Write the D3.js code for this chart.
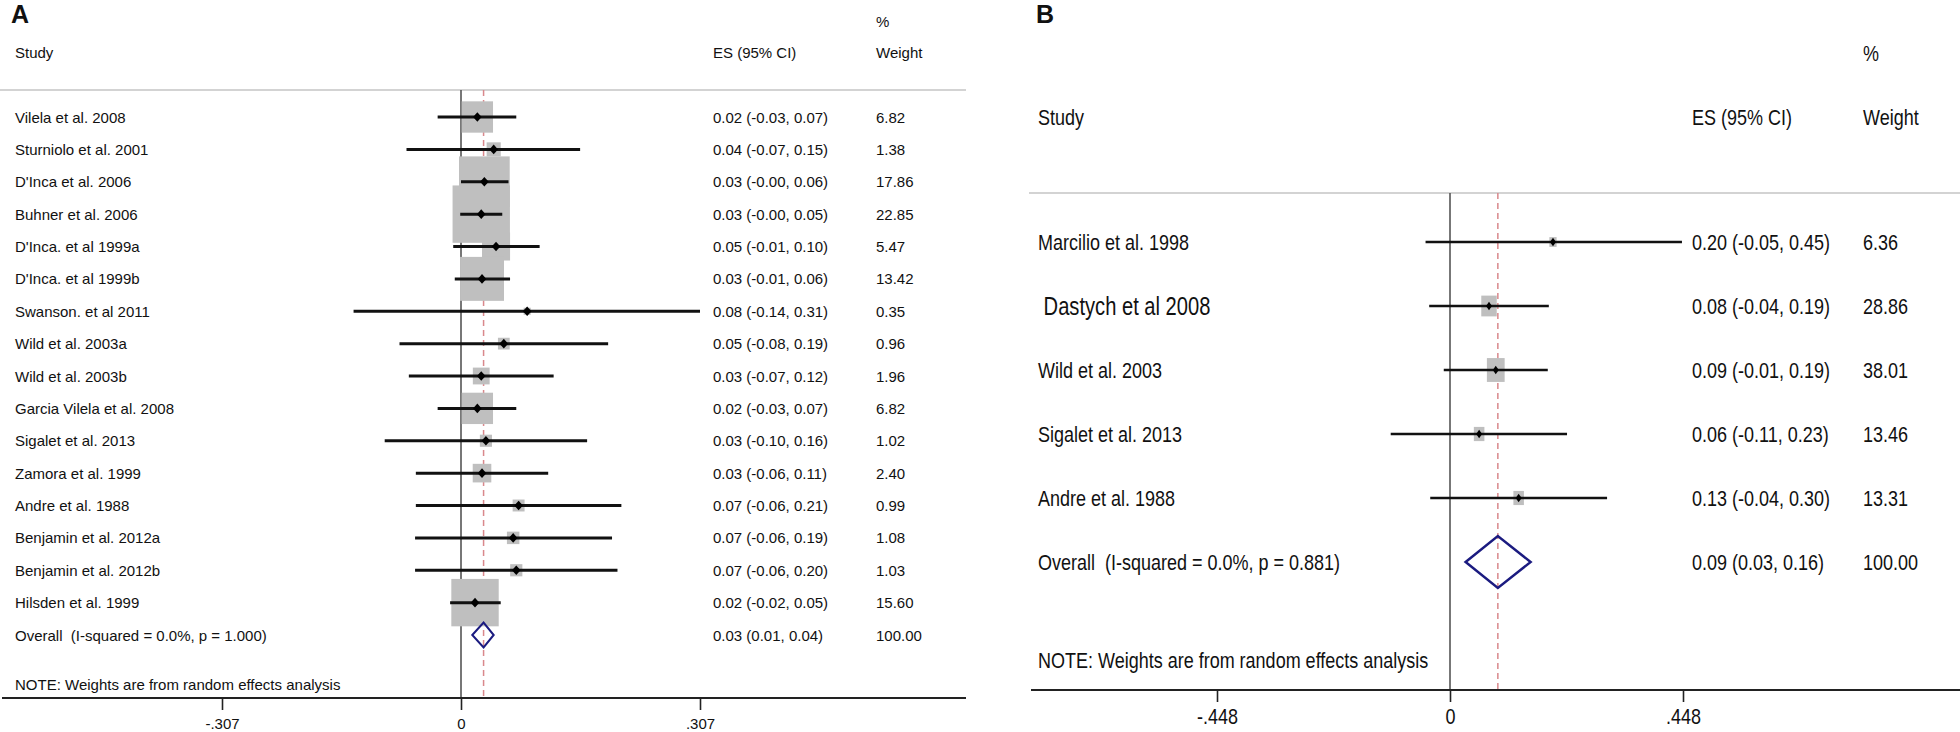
<!DOCTYPE html>
<html>
<head>
<meta charset="utf-8">
<script src="https://cdn.jsdelivr.net/npm/d3@7"></script>
<style>
	body { margin: 0; background: #fff; }
	svg { display: block; font-family: "Liberation Sans", Arial, Helvetica, sans-serif; }
	text { white-space: pre; fill: #111; }
</style>
</head>
<body>
<div id="chart"></div>
<script>
"use strict";

const width = 1960, height = 732;

//---- Data, panel A
const studiesA = ["Vilela et al. 2008", "Sturniolo et al. 2001", "D'Inca et al. 2006", "Buhner et al. 2006",
	"D'Inca. et al 1999a", "D'Inca. et al 1999b", "Swanson. et al 2011", "Wild et al. 2003a", "Wild et al. 2003b",
	"Garcia Vilela et al. 2008", "Sigalet et al. 2013", "Zamora et al. 1999", "Andre et al. 1988",
	"Benjamin et al. 2012a", "Benjamin et al. 2012b", "Hilsden et al. 1999"];
const esA = [0.021, 0.042, 0.030, 0.026, 0.045, 0.027, 0.085, 0.055, 0.026, 0.021, 0.032, 0.027, 0.074, 0.067, 0.071, 0.018];
const loA = [-0.030, -0.070, 0.000, -0.001, -0.010, -0.008, -0.138, -0.079, -0.067, -0.030, -0.098, -0.058, -0.058, -0.059, -0.059, -0.014];
const hiA = [0.071, 0.153, 0.061, 0.053, 0.101, 0.063, 0.307, 0.189, 0.119, 0.071, 0.162, 0.112, 0.206, 0.194, 0.201, 0.051];
const weightsA = [6.82, 1.38, 17.86, 22.85, 5.47, 13.42, 0.35, 0.96, 1.96, 6.82, 1.02, 2.40, 0.99, 1.08, 1.03, 15.60];
const esTextA = ["0.02 (-0.03, 0.07)", "0.04 (-0.07, 0.15)", "0.03 (-0.00, 0.06)", "0.03 (-0.00, 0.05)",
	"0.05 (-0.01, 0.10)", "0.03 (-0.01, 0.06)", "0.08 (-0.14, 0.31)", "0.05 (-0.08, 0.19)", "0.03 (-0.07, 0.12)",
	"0.02 (-0.03, 0.07)", "0.03 (-0.10, 0.16)", "0.03 (-0.06, 0.11)", "0.07 (-0.06, 0.21)", "0.07 (-0.06, 0.19)",
	"0.07 (-0.06, 0.20)", "0.02 (-0.02, 0.05)"];
const weightTextA = ["6.82", "1.38", "17.86", "22.85", "5.47", "13.42", "0.35", "0.96", "1.96", "6.82", "1.02",
	"2.40", "0.99", "1.08", "1.03", "15.60"];
const overallA = { label: "Overall  (I-squared = 0.0%, p = 1.000)", es: 0.029, lo: 0.0145, hi: 0.042, esText: "0.03 (0.01, 0.04)", wText: "100.00" };
const ticksA = [-0.307, 0, 0.307];
const tickLabelsA = ["-.307", "0", ".307"];

//---- Data, panel B
const studiesB = ["Marcilio et al. 1998", " Dastych et al 2008", "Wild et al. 2003", "Sigalet et al. 2013", "Andre et al. 1988"];
const esB = [0.198, 0.075, 0.088, 0.056, 0.132];
const loB = [-0.047, -0.040, -0.012, -0.114, -0.038];
const hiB = [0.446, 0.190, 0.188, 0.225, 0.302];
const weightsB = [6.36, 28.86, 38.01, 13.46, 13.31];
const esTextB = ["0.20 (-0.05, 0.45)", "0.08 (-0.04, 0.19)", "0.09 (-0.01, 0.19)", "0.06 (-0.11, 0.23)", "0.13 (-0.04, 0.30)"];
const weightTextB = ["6.36", "28.86", "38.01", "13.46", "13.31"];
const overallB = { label: "Overall  (I-squared = 0.0%, p = 0.881)", es: 0.092, lo: 0.030, hi: 0.155, esText: "0.09 (0.03, 0.16)", wText: "100.00" };
const ticksB = [-0.448, 0, 0.448];
const tickLabelsB = ["-.448", "0", ".448"];

const noteText = "NOTE: Weights are from random effects analysis";


//---- Layout
const panels = [
	{
		letter: "A", studies: studiesA, es: esA, lo: loA, hi: hiA, w: weightsA, esText: esTextA, wText: weightTextA,
		overall: overallA, ticks: ticksA, tickLabels: tickLabelsA,
		domain: [-0.307, 0.307], range: [222, 700],
		letterX: 11, left: 15, esX: 713, wX: 876, pctY: 21, headY: 52, lineY: 90, lineX: [0, 966],
		axisY: 698, rows: [117, 635], noteY: 684, tickDy: 25,
		font: 15, sy: 1, ciWidth: 3, boxKx: 12, boxKy: 12, markW: 4.3, markH: 4.8, diaH: 12.5, diaWidth: 2,
		enlarged: []
	},
	{
		letter: "B", studies: studiesB, es: esB, lo: loB, hi: hiB, w: weightsB, esText: esTextB, wText: weightTextB,
		overall: overallB, ticks: ticksB, tickLabels: tickLabelsB,
		domain: [-0.448, 0.448], range: [1217, 1683],
		letterX: 1036, left: 1038, esX: 1692, wX: 1863, pctY: 53, headY: 117, lineY: 193, lineX: [1029, 1960],
		axisY: 690, rows: [242, 562], noteY: 660, tickDy: 26.5,
		font: 18, sy: 1.24, ciWidth: 2.5, boxKx: 2.88, boxKy: 3.87, markW: 3, markH: 4.3, diaH: 26, diaWidth: 2.5,
		enlarged: [1]
	}
];

const svg = d3.select('#chart').append('svg')
	.attr('width', width)
	.attr('height', height)
	.attr('viewBox', [0, 0, width, height]);

function addText(g, x, y, str, size, sy, anchor) {
	return g.append('text')
		.attr('transform', `translate(${x},${y}) scale(1,${sy})`)
		.attr('dominant-baseline', 'central')
		.attr('text-anchor', anchor || 'start')
		.style('font-size', size + 'px')
		.text(str);
}

function drawPanel(p) {
	const g = svg.append('g');
	const x = d3.scaleLinear().domain(p.domain).range(p.range);
	const n = p.studies.length;
	const y = d3.scalePoint().domain(d3.range(n + 1)).range(p.rows);

	const rows = p.studies.map((s, i) => ({
		i: i, label: s, es: p.es[i], lo: p.lo[i], hi: p.hi[i], w: p.w[i], esText: p.esText[i], wText: p.wText[i]
	}));

	// header rule
	g.append('line')
		.attr('x1', p.lineX[0]).attr('x2', p.lineX[1])
		.attr('y1', p.lineY).attr('y2', p.lineY)
		.attr('stroke', '#d3d3d3').attr('stroke-width', 2);

	// no-effect line
	g.append('line')
		.attr('x1', x(0)).attr('x2', x(0))
		.attr('y1', p.lineY).attr('y2', p.axisY)
		.attr('stroke', '#555').attr('stroke-width', 1.6);

	// overall effect line
	g.append('line')
		.attr('x1', x(p.overall.es)).attr('x2', x(p.overall.es))
		.attr('y1', p.lineY).attr('y2', p.axisY)
		.attr('stroke', '#d9888c').attr('stroke-width', 1.5)
		.attr('stroke-dasharray', '6,4');

	// weight boxes
	g.selectAll('.box')
		.data(rows)
		.join('rect')
		.classed('box', true)
		.attr('x', d => x(d.es) - p.boxKx * Math.sqrt(d.w) / 2)
		.attr('y', d => y(d.i) - p.boxKy * Math.sqrt(d.w) / 2)
		.attr('width', d => p.boxKx * Math.sqrt(d.w))
		.attr('height', d => p.boxKy * Math.sqrt(d.w))
		.attr('fill', '#bfbfbf');

	// confidence intervals
	g.selectAll('.ci')
		.data(rows)
		.join('line')
		.classed('ci', true)
		.attr('x1', d => x(d.lo)).attr('x2', d => x(d.hi))
		.attr('y1', d => y(d.i)).attr('y2', d => y(d.i))
		.attr('stroke', '#111').attr('stroke-width', p.ciWidth);

	// point estimates
	g.selectAll('.mark')
		.data(rows)
		.join('path')
		.classed('mark', true)
		.attr('d', d => {
			const cx = x(d.es), cy = y(d.i);
			return `M${cx - p.markW},${cy}L${cx},${cy - p.markH}L${cx + p.markW},${cy}L${cx},${cy + p.markH}Z`;
		})
		.attr('fill', '#000');

	// overall diamond
	const oy = y(n);
	g.append('path')
		.attr('d', `M${x(p.overall.lo)},${oy}L${x(p.overall.es)},${oy - p.diaH}L${x(p.overall.hi)},${oy}L${x(p.overall.es)},${oy + p.diaH}Z`)
		.attr('fill', 'none')
		.attr('stroke', '#1b1b80')
		.attr('stroke-width', p.diaWidth);

	// axis
	g.append('line')
		.attr('x1', p.lineX[0] + 2).attr('x2', p.lineX[1])
		.attr('y1', p.axisY).attr('y2', p.axisY)
		.attr('stroke', '#222').attr('stroke-width', 2.2);

	const axis = d3.axisBottom(x)
		.tickValues(p.ticks)
		.tickFormat((d, i) => p.tickLabels[i])
		.tickSize(12)
		.tickSizeOuter(0);
	const ax = g.append('g')
		.attr('transform', `translate(0,${p.axisY})`)
		.call(axis)
		.attr('font-family', null)
		.attr('font-size', null);
	ax.select('.domain').remove();
	ax.selectAll('.tick line').attr('stroke', '#222').attr('stroke-width', 1.6);
	ax.selectAll('.tick text')
		.attr('y', null).attr('dy', null)
		.attr('dominant-baseline', 'central')
		.attr('transform', `translate(0,${p.tickDy}) scale(1,${p.sy})`)
		.attr('fill', '#111')
		.style('font-size', p.font + 'px');

	// texts
	g.append('text')
		.attr('x', p.letterX)
		.attr('y', 23)
		.style('font-size', '25px')
		.style('font-weight', 'bold')
		.text(p.letter);

	addText(g, p.wX, p.pctY, "%", p.font, p.sy);
	addText(g, p.left, p.headY, "Study", p.font, p.sy);
	addText(g, p.esX, p.headY, "ES (95% CI)", p.font, p.sy);
	addText(g, p.wX, p.headY, "Weight", p.font, p.sy);

	rows.forEach(d => {
		const size = p.enlarged.includes(d.i) ? p.font * 1.12 : p.font;
		addText(g, p.left, y(d.i), d.label, size, p.sy);
		addText(g, p.esX, y(d.i), d.esText, p.font, p.sy);
		addText(g, p.wX, y(d.i), d.wText, p.font, p.sy);
	});

	addText(g, p.left, oy, p.overall.label, p.font, p.sy);
	addText(g, p.esX, oy, p.overall.esText, p.font, p.sy);
	addText(g, p.wX, oy, p.overall.wText, p.font, p.sy);

	addText(g, p.left, p.noteY, noteText, p.font, p.sy);
}

panels.forEach(drawPanel);
</script>
</body>
</html>
